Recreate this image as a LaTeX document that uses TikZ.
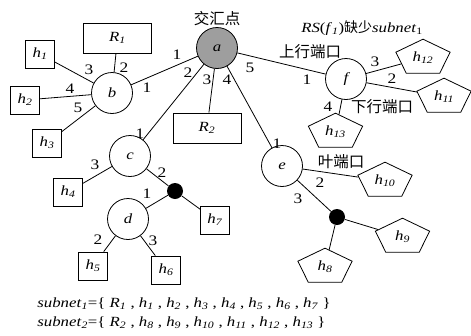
\documentclass[tikz,border=0pt]{standalone}
\usepackage{fontspec}
\setmainfont{Liberation Serif}[FakeStretch=1.2]
\newfontfamily\cjk{Noto Sans CJK SC}
\usetikzlibrary{shapes.geometric}
\newcommand\sv[2]{\textit{#1}\textsubscript{\textit{#2}}}
\newcommand\pentnode[3]{%
  \begin{scope}[shift={#2}]
    \node[pentshape] (#1) at (0,0) {};
  \end{scope}
  \node[lbl] (#1-t) at (#1.center) {\sv{h}{#3}};}
\begin{document}
\begin{tikzpicture}[x=1pt,y=-1pt, line width=0.8pt,
  lbl/.style={inner sep=0pt, font=\fontsize{14}{14}\selectfont},
  rt/.style={draw, circle, minimum size=41pt, inner sep=0pt, font=\fontsize{14}{14}\selectfont\itshape},
  hb/.style={draw, rectangle, minimum width=29pt, minimum height=28pt, inner sep=0pt, font=\fontsize{14}{14}\selectfont},
  rb/.style={draw, rectangle, minimum width=68pt, minimum height=30pt, inner sep=0pt, font=\fontsize{14}{14}\selectfont},
  pentshape/.style={draw, regular polygon, regular polygon sides=5, minimum size=57pt, inner sep=0pt, yscale=0.66, transform shape},
  dotn/.style={circle, fill=black, minimum size=16pt, inner sep=0pt},
  pn/.style={font=\fontsize{14.5}{14.5}\selectfont, inner sep=0pt},
  cj/.style={font=\cjk\fontsize{15.5}{15.5}\selectfont, inner sep=0pt}
]
\useasboundingbox (0,0) rectangle (471,335);
% routers
\node[rt, fill=black!38] (a) at (217,48) {a};
\node[rt] (b) at (112,93) {b};
\node[rt] (c) at (130,156) {c};
\node[rt] (d) at (128,219) {d};
\node[rt] (e) at (282,166) {e};
\node[rt] (f) at (346,79) {f};
\node[dotn] (p1) at (175,191) {};
\node[dotn] (p2) at (337,217) {};
% boxes
\node[rb] (R1) at (117.5,38) {\sv{R}{1}};
\node[rb] (R2) at (207,128) {\sv{R}{2}};
\node[hb] (h1) at (40,54) {\sv{h}{1}};
\node[hb] (h2) at (25,100) {\sv{h}{2}};
\node[hb] (h3) at (47,143) {\sv{h}{3}};
\node[hb] (h4) at (68,192) {\sv{h}{4}};
\node[hb] (h5) at (93,266) {\sv{h}{5}};
\node[hb] (h6) at (166,270) {\sv{h}{6}};
\node[hb] (h7) at (215,220) {\sv{h}{7}};
% pentagons
\pentnode{h12}{(423,58)}{12}
\pentnode{h11}{(444,97)}{11}
\pentnode{h13}{(335.5,132)}{13}
\pentnode{h10}{(385,181)}{10}
\pentnode{h9}{(402.5,237)}{9}
\pentnode{h8}{(325,267)}{8}
% connectors
\draw (a) -- (b);
\draw (a) -- (c);
\draw (a) -- (R2);
\draw (a) -- (e);
\draw (a) -- (f);
\draw (b) -- (R1);
\draw (b) -- (h1);
\draw (b) -- (h2);
\draw (b) -- (h3);
\draw (c) -- (h4);
\draw (c) -- (p1);
\draw (p1) -- (d);
\draw (p1) -- (h7);
\draw (d) -- (h5);
\draw (d) -- (h6);
\draw (f) -- (h12);
\draw (f) -- (h11);
\draw (f) -- (h13);
\draw (e) -- (h10);
\draw (e) -- (p2);
\draw (p2) -- (h9);
\draw (p2) -- (h8);
% port numbers
\node[pn] (a1) at (177,55) {1};
\node[pn] (a2) at (188,73) {2};
\node[pn] (a3) at (207,80) {3};
\node[pn] (a4) at (227,80) {4};
\node[pn] (a5) at (250,68) {5};
\node[pn] (b1) at (147,88) {1};
\node[pn] (b2) at (124,68) {2};
\node[pn] (b3) at (89,70) {3};
\node[pn] (b4) at (70,89) {4};
\node[pn] (b5) at (78,108) {5};
\node[pn] (c1) at (140,134) {1};
\node[pn] (c3) at (95,165) {3};
\node[pn] (c2) at (162,173) {2};
\node[pn] (d1) at (147,194) {1};
\node[pn] (d2) at (98,240) {2};
\node[pn] (d3) at (153,241) {3};
\node[pn] (f1) at (307,80) {1};
\node[pn] (f3) at (375,62) {3};
\node[pn] (f2) at (392,79) {2};
\node[pn] (f4) at (328,107) {4};
\node[pn] (e1) at (277,144) {1};
\node[pn] (e2) at (320,183) {2};
\node[pn] (e3) at (298,199) {3};
% text labels
\node[cj] (t1) at (217,19) {交汇点};
\node[lbl] (t2) at (362,28) {\textit{RS}(\sv{f}{1}){\cjk 缺少}\textit{subnet}\textsubscript{1}};
\node[cj] (t3) at (310,52) {上行端口};
\node[cj] (t4) at (382,107) {下行端口};
\node[cj] (t5) at (341,162) {叶端口};
\node[lbl, anchor=west] (s1) at (37,304) {\sv{subnet}{1}=\{ \sv{R}{1} , \sv{h}{1} , \sv{h}{2} , \sv{h}{3} , \sv{h}{4} , \sv{h}{5} , \sv{h}{6} , \sv{h}{7} \}};
\node[lbl, anchor=west] (s2) at (37,323) {\sv{subnet}{2}=\{ \sv{R}{2} , \sv{h}{8} , \sv{h}{9} , \sv{h}{10} , \sv{h}{11} , \sv{h}{12} , \sv{h}{13} \}};
\end{tikzpicture}
\end{document}
